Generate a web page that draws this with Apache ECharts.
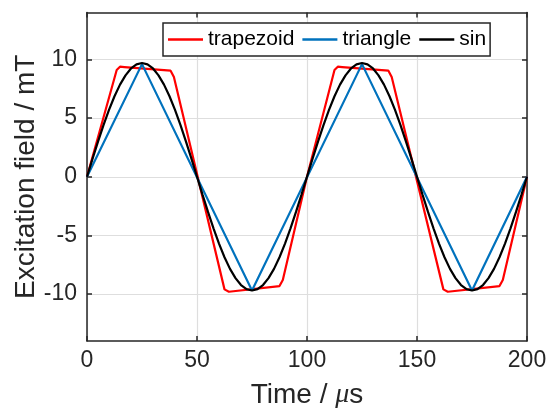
<!DOCTYPE html>
<html>
<head>
<meta charset="utf-8">
<script src="https://cdn.jsdelivr.net/npm/echarts@6/dist/echarts.min.js"></script>
<style>html,body{margin:0;padding:0;background:#fff;}#c{width:548px;height:410px;}</style>
</head>
<body>
<div id="c"></div>
<script>
// ---- data ----
var seriesNames = ['trapezoid', 'triangle', 'sin'];
var xTicks = [0, 50, 100, 150, 200];
var yTicks = [-10, -5, 0, 5, 10];

var trapTime = [0, 13.5, 15, 17, 38, 39.5, 62.5, 64.5, 87.5, 89, 100, 112.5, 114, 116, 137, 138.5, 162, 164, 187.5, 189, 200];
var trapVals = [0, 9.1, 9.38, 9.35, 9.04, 8.5, -9.6, -9.8, -9.32, -8.8, 0, 9.1, 9.38, 9.35, 9.04, 8.5, -9.6, -9.8, -9.32, -8.8, 0];

var triTime = [0, 25, 75, 125, 175, 200];
var triVals = [0, 9.6, -9.7, 9.6, -9.7, 0];

var sinTime = [0, 2.5, 5, 7.5, 10, 12.5, 15, 17.5, 20, 22.5, 25, 27.5, 30, 32.5, 35, 37.5, 40, 42.5, 45, 47.5,
  50, 52.5, 55, 57.5, 60, 62.5, 65, 67.5, 70, 72.5, 75, 77.5, 80, 82.5, 85, 87.5, 90, 92.5, 95, 97.5,
  100, 102.5, 105, 107.5, 110, 112.5, 115, 117.5, 120, 122.5, 125, 127.5, 130, 132.5, 135, 137.5, 140, 142.5, 145, 147.5,
  150, 152.5, 155, 157.5, 160, 162.5, 165, 167.5, 170, 172.5, 175, 177.5, 180, 182.5, 185, 187.5, 190, 192.5, 195, 197.5, 200];
var sinVals = [0, 1.52, 3.00, 4.40, 5.70, 6.86, 7.85, 8.64, 9.23, 9.58, 9.70, 9.58, 9.23, 8.64, 7.85, 6.86, 5.70, 4.40, 3.00, 1.52,
  0, -1.52, -3.00, -4.40, -5.70, -6.86, -7.85, -8.64, -9.23, -9.58, -9.70, -9.58, -9.23, -8.64, -7.85, -6.86, -5.70, -4.40, -3.00, -1.52,
  0, 1.52, 3.00, 4.40, 5.70, 6.86, 7.85, 8.64, 9.23, 9.58, 9.70, 9.58, 9.23, 8.64, 7.85, 6.86, 5.70, 4.40, 3.00, 1.52,
  0, -1.52, -3.00, -4.40, -5.70, -6.86, -7.85, -8.64, -9.23, -9.58, -9.70, -9.58, -9.23, -8.64, -7.85, -6.86, -5.70, -4.40, -3.00, -1.52,
  0];

function pairs(t, v) { return t.map(function (x, i) { return [x, v[i]]; }); }

var FONT = '"Liberation Sans", Arial, Helvetica, sans-serif';
var AX = '#262626';
var GRIDC = '#dedede';

var chart = echarts.init(document.getElementById('c'), null, { renderer: 'canvas' });
var option = {
  animation: false,
  backgroundColor: '#ffffff',
  textStyle: { fontFamily: FONT },
  grid: { left: 87, right: 21, top: 12.5, bottom: 69, containLabel: false, outerBoundsMode: 'none' },
  legend: {
    data: seriesNames,
    left: 163, top: 23,
    icon: 'rect',
    itemWidth: 35, itemHeight: 2.5, itemGap: 8,
    padding: [6, 4, 6, 5],
    borderColor: AX, borderWidth: 1.5, backgroundColor: '#ffffff',
    textStyle: { fontFamily: FONT, fontSize: 21, color: '#000' }
  },
  xAxis: [{
    type: 'value', min: 0, max: 200, interval: 50, position: 'bottom',
    name: '{n|Time / }{i|μ}{n|s}', nameLocation: 'middle', nameGap: 40,
    nameTextStyle: {
      rich: {
        n: { fontFamily: FONT, fontSize: 28, color: '#262626' },
        i: { fontFamily: '"Liberation Serif", serif', fontStyle: 'italic', fontSize: 28, color: '#262626' }
      }
    },
    axisLine: { show: true, onZero: false, lineStyle: { color: AX, width: 1.5 } },
    axisTick: { show: true, inside: true, length: 5, lineStyle: { color: AX, width: 1.5 } },
    axisLabel: { fontFamily: FONT, fontSize: 23, color: '#262626', margin: 8, customValues: xTicks },
    splitLine: { show: true, lineStyle: { color: GRIDC, width: 1.2 } }
  }, {
    type: 'value', min: 0, max: 200, interval: 50, position: 'top',
    axisLine: { show: true, onZero: false, lineStyle: { color: AX, width: 1.5 } },
    axisTick: { show: true, inside: true, length: 5, lineStyle: { color: AX, width: 1.5 } },
    axisLabel: { show: false },
    splitLine: { show: false }
  }],
  yAxis: [{
    type: 'value', min: -14, max: 14, position: 'left',
    name: 'Excitation field / mT', nameLocation: 'middle', nameGap: 47, nameRotate: 90,
    nameMoveOverlap: false,
    nameTextStyle: { fontFamily: FONT, fontSize: 28, color: '#262626' },
    axisLine: { show: true, onZero: false, lineStyle: { color: AX, width: 1.5 } },
    axisTick: { show: true, inside: true, length: 5, customValues: yTicks, lineStyle: { color: AX, width: 1.5 } },
    axisLabel: { fontFamily: FONT, fontSize: 23, color: '#262626', margin: 10, customValues: yTicks },
    splitLine: { show: true, lineStyle: { color: GRIDC, width: 1.2 } }
  }, {
    type: 'value', min: -14, max: 14, position: 'right',
    axisLine: { show: true, onZero: false, lineStyle: { color: AX, width: 1.5 } },
    axisTick: { show: true, inside: true, length: 5, customValues: yTicks, lineStyle: { color: AX, width: 1.5 } },
    axisLabel: { show: false },
    splitLine: { show: false }
  }],
  series: [
    { name: seriesNames[0], type: 'line', data: pairs(trapTime, trapVals), symbol: 'none', color: '#ff0000', lineStyle: { color: '#ff0000', width: 2.2 } },
    { name: seriesNames[1], type: 'line', data: pairs(triTime, triVals), symbol: 'none', color: '#0072bd', lineStyle: { color: '#0072bd', width: 2.2 } },
    { name: seriesNames[2], type: 'line', data: pairs(sinTime, sinVals), symbol: 'none', color: '#000000', lineStyle: { color: '#000000', width: 2.2 } }
  ]
};
chart.setOption(option);
</script>
</body>
</html>
